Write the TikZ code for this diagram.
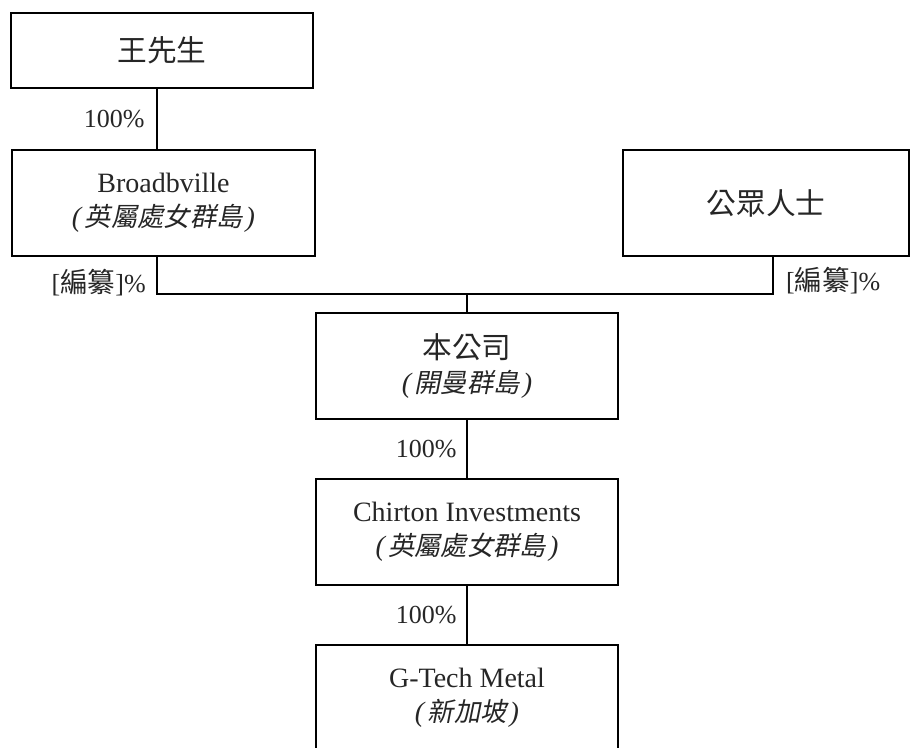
\documentclass[tikz,border=0pt]{standalone}
\usepackage{fontspec}
\setmainfont{Liberation Serif}
\newfontfamily\cjk{Noto Sans CJK TC}[Scale=1.06]
\newfontfamily\cjkit{Noto Sans CJK TC}[FakeSlant=0.2,Scale=0.94]
\newcommand{\regionname}[1]{\textit{(}\kern2pt{\cjkit #1}\kern3pt\textit{)}}
\usetikzlibrary{calc}

\begin{document}
\begin{tikzpicture}[x=1pt,y=-1pt,
    box/.style={draw, line width=1.1pt, minimum width=302pt, minimum height=106pt,
        inner sep=0pt, align=center, text=black!85, font=\fontsize{28}{34}\selectfont},
    pct/.style={inner sep=0pt, text=black!85, font=\fontsize{26}{30}\selectfont}]
        \useasboundingbox (0,0) rectangle (912,747);
        \clip (0,0) rectangle (912,747);
        \node[box, minimum height=75pt] (wang) at (162,50.5) {\cjk 王先生};
        \node[box, minimum width=303pt] (broad) at (163.5,203) {Broadbville\\\regionname{英屬處女群島}};
        \node[box, minimum width=286pt] (public) at (766,203) {\cjk 公眾人士};
        \node[box] (company) at (467,366) {{\cjk 本公司}\\\regionname{開曼群島}};
        \node[box] (chirton) at (467,532) {Chirton Investments\\\regionname{英屬處女群島}};
        \node[box] (gtech) at (467,698) {G-Tech Metal\\\regionname{新加坡}};
        \coordinate (left) at (157,294);
        \coordinate (right) at (773,294);
        \coordinate (mid) at (467,294);
        \draw[line width=1.1pt] (wang.south -| left) -- node[pct, anchor=east, xshift=-12pt] {100\%} (broad.north -| left);
        \draw[line width=1.1pt] (broad.south -| left) -- (left) -- (right) -- (public.south -| right);
        \draw[line width=1.1pt] (mid) -- (company.north);
        \draw[line width=1.1pt] (company.south) -- node[pct, anchor=east, xshift=-10pt] {100\%} (chirton.north);
        \draw[line width=1.1pt] (chirton.south) -- node[pct, anchor=east, xshift=-10pt] {100\%} (gtech.north);
        \node[pct, anchor=east] (leftpct) at (146,283) {[{\cjk 編纂}]\%};
        \node[pct, anchor=west] (rightpct) at (786,281) {[{\cjk 編纂}]\%};
    \end{tikzpicture}
\end{document}
